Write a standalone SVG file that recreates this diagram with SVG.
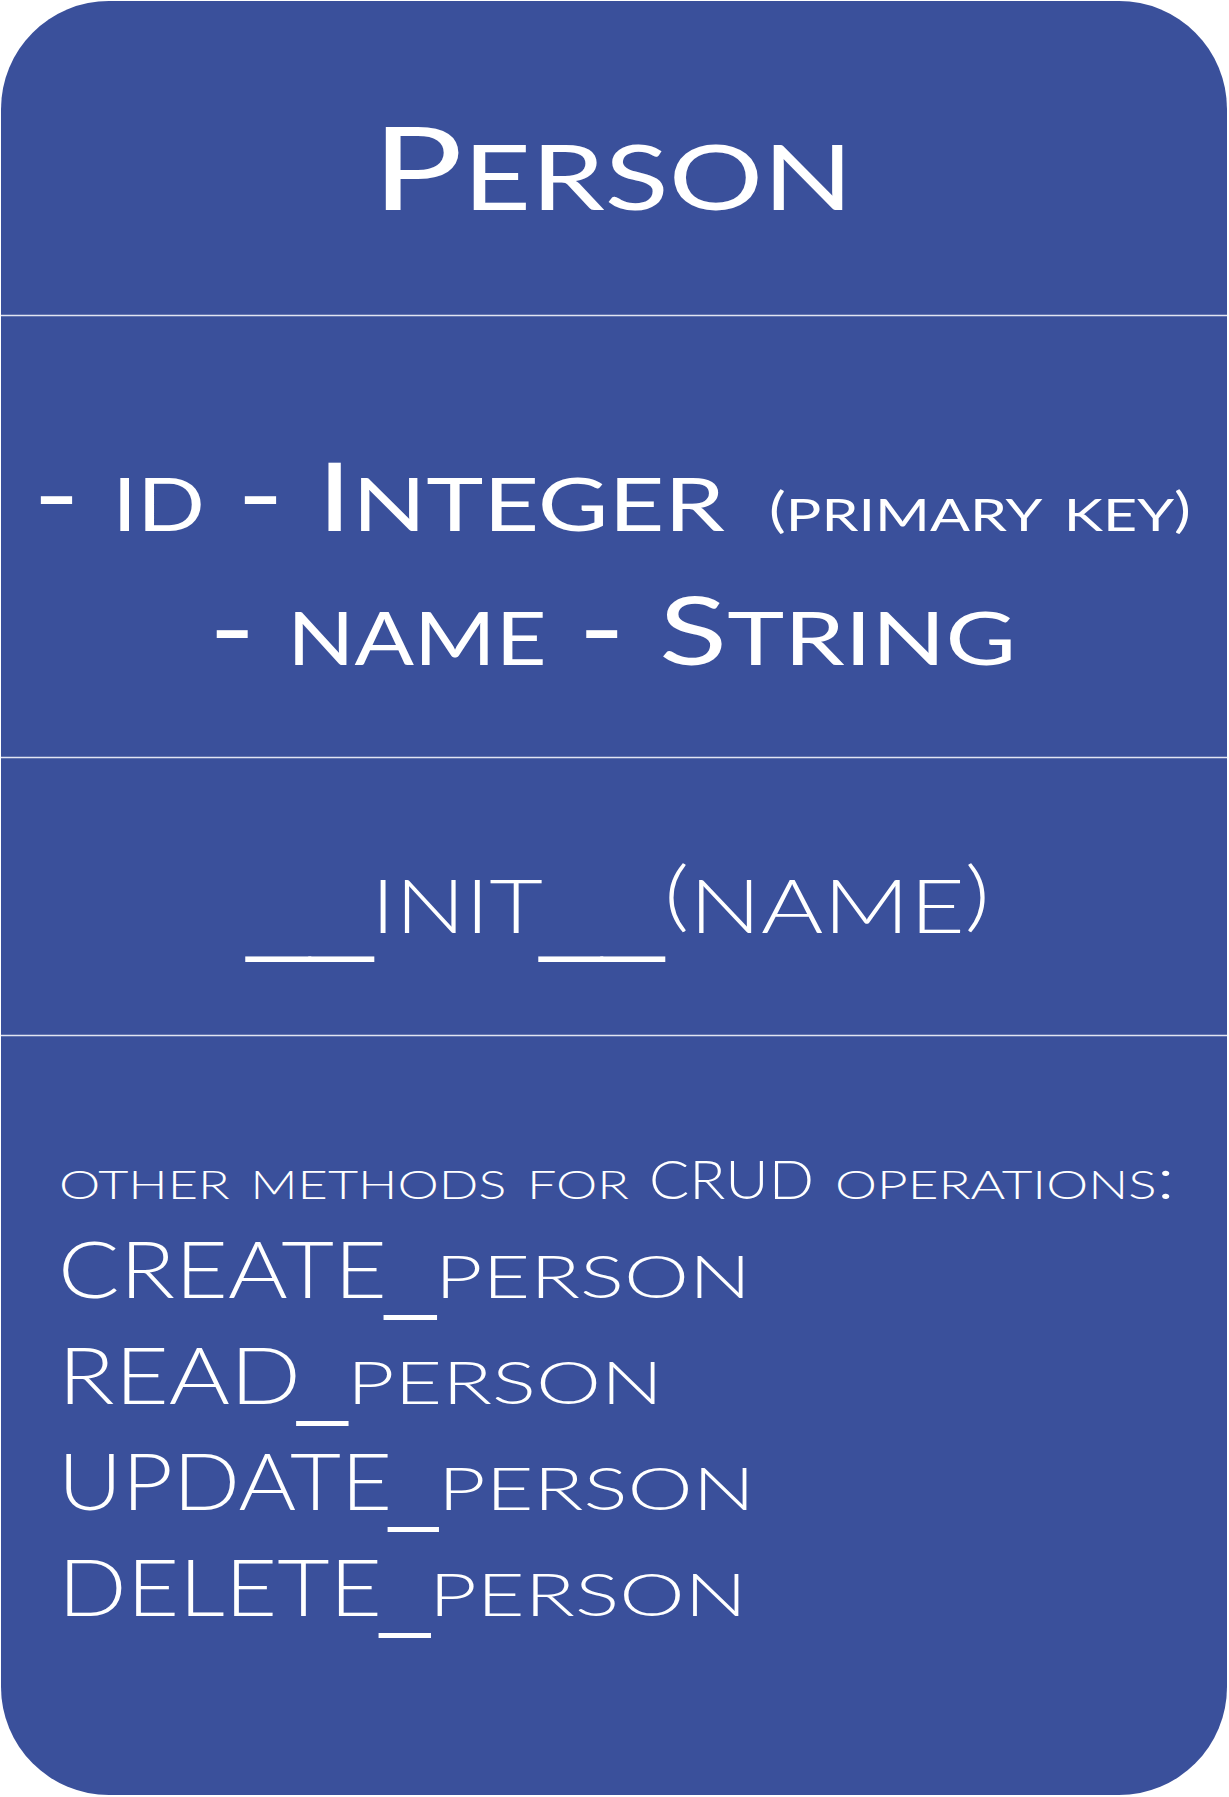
<svg xmlns="http://www.w3.org/2000/svg" width="1229" height="1797" viewBox="0 0 1229 1797">
  <style>
    .card { fill: #3A509B; }
    .div { stroke: #E2E5F2; stroke-width: 1.3; }
    .t { font-family: Lato, "Liberation Sans", sans-serif; font-weight: 400; fill: #FFFFFF; font-variant: small-caps; }
    .l { font-weight: 300; }
    .u { font-family: "Liberation Sans", Arial, sans-serif; font-weight: 400; font-variant: normal; }
  </style>
  <rect width="1229" height="1797" fill="#FFFFFF"/>
  <g id="person-class">
    <rect class="card" x="1" y="1" width="1226" height="1794" rx="108" ry="108"/>
    <g id="dividers">
      <line class="div" x1="1" y1="315.5" x2="1227" y2="315.5"/>
      <line class="div" x1="1" y1="757.5" x2="1227" y2="757.5"/>
      <line class="div" x1="1" y1="1035.5" x2="1227" y2="1035.5"/>
    </g>
    <g id="class-name">
      <text class="t" x="372" y="210" textLength="481" lengthAdjust="spacingAndGlyphs"><tspan font-size="117">P</tspan><tspan font-size="129.5">erson</tspan></text>
    </g>
    <g id="attributes">
      <text class="t" y="531"><tspan x="33" textLength="251" lengthAdjust="spacingAndGlyphs" font-size="103.6">- id -</tspan> <tspan x="317" textLength="408" lengthAdjust="spacingAndGlyphs"><tspan font-size="95">I</tspan><tspan font-size="103.6">nteger</tspan></tspan> <tspan x="769" textLength="422" lengthAdjust="spacingAndGlyphs"><tspan y="527" font-size="48">(</tspan><tspan y="531" font-size="63.8">primary key</tspan><tspan y="527" font-size="48">)</tspan></tspan></text>
      <text class="t" y="665"><tspan x="209" textLength="416" lengthAdjust="spacingAndGlyphs" font-size="103.6">- name -</tspan> <tspan x="659" textLength="357" lengthAdjust="spacingAndGlyphs"><tspan font-size="95">S</tspan><tspan font-size="103.6">tring</tspan></tspan></text>
    </g>
    <g id="constructor">
      <text class="t l" y="933"><tspan class="u" x="247" y="945" font-size="87" textLength="126" lengthAdjust="spacingAndGlyphs">__</tspan><tspan x="371" y="933" font-size="105.6" textLength="172" lengthAdjust="spacingAndGlyphs">init</tspan><tspan class="u" x="540" y="945" font-size="87" textLength="124" lengthAdjust="spacingAndGlyphs">__</tspan><tspan x="664" textLength="326" lengthAdjust="spacingAndGlyphs"><tspan y="922" font-size="76">(</tspan><tspan y="933" font-size="105.6">name</tspan><tspan y="922" font-size="76">)</tspan></tspan></text>
    </g>
    <g id="methods">
      <text class="t l" y="1199"><tspan x="59" textLength="570" lengthAdjust="spacingAndGlyphs" font-size="57.8">other methods for</tspan> <tspan x="649" textLength="165" lengthAdjust="spacingAndGlyphs" font-size="53">CRUD</tspan> <tspan x="835" textLength="340" lengthAdjust="spacingAndGlyphs" font-size="57.8">operations:</tspan></text>
      <text class="t l" y="1298"><tspan x="58" textLength="329" lengthAdjust="spacingAndGlyphs" font-size="78">CREATE</tspan><tspan class="u" x="385" y="1304.4" textLength="51" lengthAdjust="spacingAndGlyphs" font-size="78">_</tspan><tspan x="435" y="1298" textLength="316" lengthAdjust="spacingAndGlyphs" font-size="85.7">person</tspan></text>
      <text class="t l" y="1404"><tspan x="58" textLength="243" lengthAdjust="spacingAndGlyphs" font-size="78">READ</tspan><tspan class="u" x="297.5" y="1410.4" textLength="50" lengthAdjust="spacingAndGlyphs" font-size="78">_</tspan><tspan x="347" y="1404" textLength="316" lengthAdjust="spacingAndGlyphs" font-size="85.7">person</tspan></text>
      <text class="t l" y="1510"><tspan x="58" textLength="334" lengthAdjust="spacingAndGlyphs" font-size="78">UPDATE</tspan><tspan class="u" x="389" y="1516.4" textLength="49" lengthAdjust="spacingAndGlyphs" font-size="78">_</tspan><tspan x="438" y="1510" textLength="317" lengthAdjust="spacingAndGlyphs" font-size="85.7">person</tspan></text>
      <text class="t l" y="1616"><tspan x="58" textLength="324" lengthAdjust="spacingAndGlyphs" font-size="78">DELETE</tspan><tspan class="u" x="380" y="1622.4" textLength="50" lengthAdjust="spacingAndGlyphs" font-size="78">_</tspan><tspan x="429" y="1616" textLength="318" lengthAdjust="spacingAndGlyphs" font-size="85.7">person</tspan></text>
    </g>
  </g>
</svg>
